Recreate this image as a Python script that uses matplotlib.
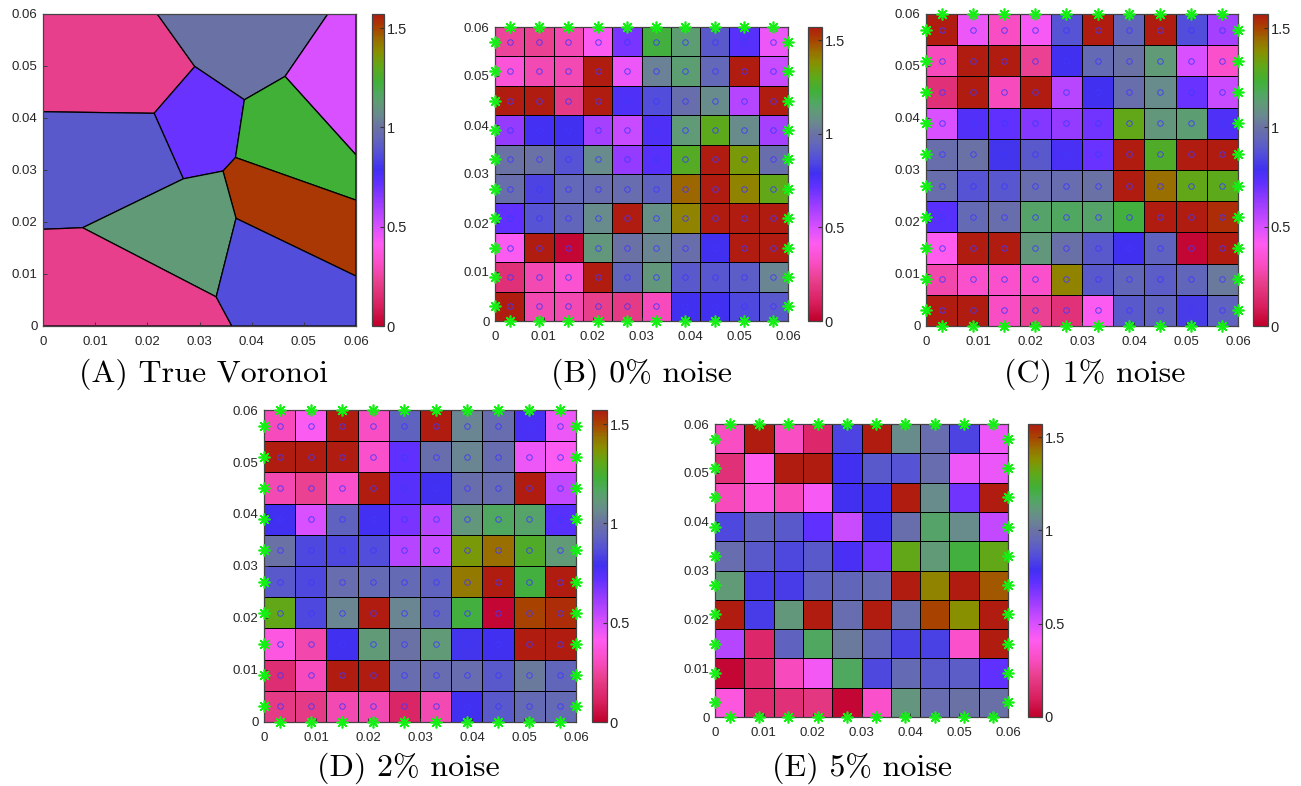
import numpy as np
import matplotlib
matplotlib.use("Agg")
import matplotlib.pyplot as plt
from matplotlib.colors import LinearSegmentedColormap, Normalize
from matplotlib.collections import PolyCollection

plt.rcParams['font.family'] = ['Liberation Sans', 'DejaVu Sans']

# colormap nodes (value, colour)
cmap_vals = [0.00, 0.10, 0.22, 0.30, 0.41, 0.50, 0.62, 0.72, 0.79, 0.87, 0.95, 1.00,
             1.06, 1.12, 1.17, 1.23, 1.31, 1.38, 1.44, 1.50, np.pi / 2]
cmap_cols = ["#c0002a", "#d82060", "#e8408e", "#f84cc0", "#ff5cf0", "#d850ff", "#9a3cff",
             "#6030ff", "#4030f0", "#5450d8", "#6468b8", "#6a72a4", "#6a8890", "#609a78",
             "#50a860", "#40b038", "#60a818", "#889000", "#987000", "#a84400", "#b01c10"]
vmax = np.pi / 2
cmap = LinearSegmentedColormap.from_list(
    "angle", [(v / vmax, c) for v, c in zip(cmap_vals, cmap_cols)])
norm = Normalize(0, vmax)

# true Voronoi: vertices (x, y) and cells
vor_x = [0.0219, 0.0291, 0.0546, 0.0464, 0.0386, 0.0213, 0.0, 0.0369, 0.06, 0.0345,
         0.0269, 0.06, 0.0370, 0.0076, 0.0, 0.06, 0.0332, 0.0362, 0.0, 0.06, 0.0, 0.06]
vor_y = [0.06, 0.0499, 0.06, 0.0480, 0.0435, 0.0409, 0.0412, 0.0324, 0.0329, 0.0298,
         0.0283, 0.0242, 0.0207, 0.0189, 0.0186, 0.0096, 0.0056, 0.0, 0.06, 0.06, 0.0, 0.0]
vor_cells = [[18, 0, 1, 5, 6], [0, 2, 3, 4, 1], [2, 19, 8, 3], [1, 4, 7, 9, 10, 5],
             [4, 3, 8, 11, 7], [6, 5, 10, 13, 14], [7, 11, 15, 12, 9],
             [10, 9, 12, 16, 13], [14, 13, 16, 17, 20], [12, 15, 21, 17, 16]]
vor_vals = [0.22, 1.00, 0.50, 0.70, 1.23, 0.90, 1.52, 1.12, 0.22, 0.86]

# reconstructed angles, rows listed top to bottom
B = [[0.24, 0.23, 0.28, 0.42, 0.68, 1.22, 1.13, 0.90, 0.74, 0.45],
     [0.36, 0.28, 0.28, 1.57, 0.45, 1.04, 1.13, 0.95, 1.57, 0.53],
     [1.57, 1.57, 0.20, 1.57, 0.76, 0.86, 0.98, 1.07, 0.57, 1.57],
     [0.63, 0.78, 0.79, 0.60, 0.53, 0.76, 1.12, 1.30, 1.07, 0.60],
     [1.00, 1.00, 0.88, 1.07, 0.63, 0.74, 1.28, 1.57, 1.35, 0.98],
     [0.98, 0.84, 0.95, 0.97, 0.97, 0.93, 1.45, 1.57, 1.40, 1.31],
     [0.72, 0.88, 0.94, 1.07, 1.57, 1.08, 1.40, 1.57, 1.57, 1.57],
     [0.42, 1.57, 0.02, 1.11, 1.00, 1.05, 0.98, 0.79, 1.57, 1.57],
     [0.16, 0.28, 0.34, 1.57, 0.94, 1.11, 0.90, 0.89, 0.91, 1.05],
     [1.57, 0.28, 0.28, 0.22, 0.20, 0.30, 0.79, 0.79, 0.85, 0.90]]
C = [[1.57, 0.45, 0.31, 0.43, 0.88, 1.57, 0.94, 1.57, 0.86, 0.60],
     [0.30, 1.57, 1.57, 0.23, 0.79, 0.96, 1.00, 1.12, 0.50, 0.33],
     [0.16, 1.57, 0.30, 1.57, 0.56, 0.79, 0.98, 1.07, 0.70, 0.53],
     [0.50, 0.75, 0.72, 0.66, 0.63, 0.69, 1.31, 1.11, 1.13, 0.76],
     [0.98, 1.00, 0.80, 0.90, 0.77, 0.70, 1.57, 1.27, 1.57, 1.57],
     [0.98, 0.88, 0.89, 0.97, 0.97, 1.00, 1.57, 1.44, 1.31, 1.30],
     [0.74, 0.96, 0.98, 1.15, 1.17, 1.15, 1.22, 1.57, 1.57, 1.54],
     [0.41, 1.57, 1.57, 1.11, 0.99, 0.90, 0.79, 0.93, 0.02, 1.57],
     [0.27, 0.33, 0.33, 0.33, 1.40, 0.90, 0.94, 0.91, 0.94, 1.02],
     [1.57, 1.57, 0.31, 0.23, 0.17, 0.42, 0.90, 0.93, 0.82, 0.93]]
D = [[0.30, 0.42, 1.57, 0.31, 0.93, 1.57, 1.05, 0.97, 0.77, 0.45],
     [1.57, 1.57, 1.57, 0.33, 0.72, 0.98, 1.05, 0.97, 0.45, 0.42],
     [0.28, 0.23, 0.33, 1.57, 0.74, 0.79, 0.98, 0.97, 1.57, 0.54],
     [0.79, 0.50, 0.93, 0.78, 0.68, 0.56, 1.11, 1.17, 1.15, 0.74],
     [1.00, 0.85, 0.85, 0.86, 0.57, 0.53, 1.35, 1.44, 1.27, 1.12],
     [0.90, 0.85, 0.97, 0.96, 0.96, 0.93, 1.42, 1.57, 1.22, 1.57],
     [1.31, 0.85, 1.05, 1.57, 1.05, 0.94, 1.22, 0.02, 1.50, 1.54],
     [0.38, 0.27, 0.79, 1.12, 1.00, 1.12, 0.80, 0.79, 1.57, 1.57],
     [0.15, 0.30, 1.57, 1.57, 0.97, 0.97, 0.97, 0.90, 1.02, 0.94],
     [0.20, 0.20, 0.28, 0.28, 0.12, 0.28, 0.79, 0.90, 0.96, 0.96]]
E = [[0.31, 1.57, 0.31, 0.13, 0.84, 1.57, 1.07, 0.97, 0.84, 0.45],
     [0.16, 0.41, 1.57, 1.57, 0.79, 0.90, 0.88, 0.97, 0.45, 0.46],
     [0.30, 0.38, 0.30, 0.43, 0.79, 0.79, 1.57, 1.07, 0.69, 1.57],
     [0.85, 0.93, 0.90, 0.72, 0.53, 0.79, 0.98, 1.15, 1.07, 0.54],
     [0.97, 0.90, 0.85, 0.90, 0.77, 0.69, 1.31, 1.12, 1.22, 1.31],
     [1.12, 0.82, 0.82, 0.93, 0.94, 0.96, 1.57, 1.40, 1.57, 1.47],
     [1.57, 0.82, 1.11, 1.57, 0.97, 1.57, 0.98, 1.50, 1.38, 1.57],
     [0.57, 0.13, 0.93, 1.17, 1.02, 0.94, 0.83, 0.83, 0.33, 1.57],
     [0.02, 0.13, 0.30, 0.44, 1.17, 0.85, 0.96, 0.90, 0.91, 0.72],
     [0.37, 0.14, 0.16, 0.19, 0.02, 0.33, 1.10, 0.97, 1.00, 0.99]]

ticks = [0, 0.01, 0.02, 0.03, 0.04, 0.05, 0.06]
tick_labels = ["0", "0.01", "0.02", "0.03", "0.04", "0.05", "0.06"]
cb_ticks = [0, 0.5, 1, 1.5]
cb_labels = ["0", "0.5", "1", "1.5"]

W, H = 1301, 786
fig = plt.figure(figsize=(W / 100, H / 100), dpi=100)


def box(x0, y0, x1, y1):
    # pixel box -> figure fraction
    return [x0 / W, 1 - y1 / H, (x1 - x0) / W, (y1 - y0) / H]


def style_axes(ax):
    ax.set_xlim(0, 0.06)
    ax.set_ylim(0, 0.06)
    ax.set_xticks(ticks)
    ax.set_xticklabels(tick_labels)
    ax.set_yticks(ticks)
    ax.set_yticklabels(tick_labels)
    ax.tick_params(direction="in", length=3, width=0.6, labelsize=9.5, pad=4,
                   color="#333333", labelcolor="#262626")
    ax.tick_params(axis="x", pad=7)
    for s in ax.spines.values():
        s.set_color("#444444")
        s.set_linewidth(0.9)


def add_cbar(mappable, rect):
    cax = fig.add_axes(rect)
    cb = fig.colorbar(mappable, cax=cax, ticks=cb_ticks)
    cb.ax.set_yticklabels(cb_labels)
    cb.ax.tick_params(direction="in", length=3, width=0.8, labelsize=10.5, pad=2,
                      color="#333333", labelcolor="#262626")
    cb.outline.set_edgecolor("#444444")
    cb.outline.set_linewidth(0.9)


def title(x, y, s):
    fig.text(x / W, 1 - y / H, s, ha="center", va="center", fontsize=23,
             family=["cmr10", "DejaVu Serif"])


# (A) true Voronoi
axA = fig.add_axes(box(43, 14, 356, 326))
polys = [[(vor_x[i], vor_y[i]) for i in cell] for cell in vor_cells]
pc = PolyCollection(polys, array=np.array(vor_vals), cmap=cmap, norm=norm,
                    edgecolors="black", linewidths=0.9)
axA.add_collection(pc)
style_axes(axA)
add_cbar(pc, box(372, 14, 384, 326))
title(203, 374, "(A) True Voronoi")

edges = np.linspace(0, 0.06, 11)
centers = (edges[:-1] + edges[1:]) / 2


def grid_panel(data, ax_px, cb_px, circles):
    ax = fig.add_axes(box(*ax_px))
    vals = np.array(data)[::-1]
    m = ax.pcolormesh(edges, edges, vals, cmap=cmap, norm=norm,
                      edgecolors="black", linewidth=0.7)
    if circles:
        cx, cy = np.meshgrid(centers, centers)
        ax.plot(cx.ravel(), cy.ravel(), "o", ms=4, mfc="none", mec="#4038ff",
                mew=0.7, alpha=0.85)
    ast = dict(marker=(8, 2, 0), ms=8.5, mew=1.2, color="#14f014", ls="none",
               clip_on=False, zorder=5)
    ax.plot(centers, np.full(10, 0.06), **ast)
    ax.plot(centers, np.zeros(10), **ast)
    ax.plot(np.zeros(10), centers, **ast)
    ax.plot(np.full(10, 0.06), centers, **ast)
    style_axes(ax)
    add_cbar(m, box(*cb_px))
    return ax


grid_panel(B, (495, 27, 788, 321), (808, 27, 822, 321), True)
title(641, 374, "(B) 0% noise")
grid_panel(C, (926, 14, 1238, 326), (1253, 14, 1268, 326), True)
title(1095, 374, "(C) 1% noise")
grid_panel(D, (264, 410, 576, 722), (592, 410, 607, 722), True)
title(408, 768, "(D) 2% noise")
grid_panel(E, (715, 424, 1008, 717), (1028, 424, 1042, 717), False)
title(862, 768, "(E) 5% noise")

fig.savefig("out.png", dpi=100)
